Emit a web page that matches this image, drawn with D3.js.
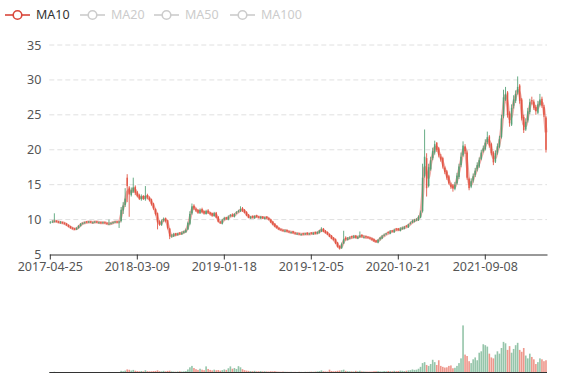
<!DOCTYPE html>
<html><head><meta charset="utf-8">
<script src="https://cdn.jsdelivr.net/npm/d3@7"></script>
<style>body{margin:0;background:#fff}svg{display:block;font-family:"Noto Sans",sans-serif}</style>
</head><body><svg id="c" width="577" height="380"></svg>
<script>
const tickLabels = ["2017-04-25","2018-03-09","2019-01-18","2019-12-05","2020-10-21","2021-09-08"];
const tickIndex = [0,43,86,129,172,215];
const legendNames = ["MA10","MA20","MA50","MA100"];
const legendSelected = [true,false,false,false];
const yTicks = [5,10,15,20,25,30,35];

const opens = [9.5,9.6,9.7,9.8,9.7,9.5,9.6,9.5,9.4,9.2,
9.0,8.8,8.7,8.6,8.8,9.1,9.4,9.5,9.7,9.6,
9.7,9.5,9.6,9.7,9.5,9.6,9.5,9.6,9.5,9.3,
9.4,9.5,9.6,9.7,9.6,9.8,11.3,12.1,16.0,14.6,
13.5,14.0,14.7,13.9,13.5,12.9,13.4,12.9,13.5,13.1,
12.9,12.3,11.5,10.9,9.7,9.2,9.9,10.2,9.9,8.7,
7.6,7.6,8.0,7.8,8.1,7.9,8.1,8.2,8.6,9.4,
10.9,12.0,11.5,11.4,10.9,11.5,11.2,10.8,11.3,11.0,
10.9,10.5,11.0,10.4,9.6,9.4,10.0,10.3,10.0,10.5,
10.7,10.4,10.9,11.1,11.2,11.6,11.4,11.1,10.7,10.2,
10.5,10.2,10.6,10.4,10.2,10.4,10.1,10.4,10.2,10.0,
9.7,9.4,9.1,8.8,8.6,8.5,8.3,8.5,8.3,8.1,
8.3,8.1,7.9,8.0,7.8,8.0,7.9,8.1,7.9,8.1,
7.9,8.2,8.0,8.1,8.3,8.7,8.4,8.2,7.9,7.7,
7.4,7.2,6.7,6.2,5.9,6.6,7.4,7.1,7.3,7.6,
7.4,7.7,7.3,7.5,7.8,7.4,7.6,7.5,7.4,7.3,
7.2,7.0,6.7,7.2,7.3,7.7,7.9,8.2,8.0,8.4,
8.2,8.7,8.7,8.4,8.6,8.7,9.1,8.9,9.4,9.6,
9.7,9.9,9.9,10.3,11.2,16.2,18.8,14.8,17.2,18.8,
19.6,21.0,20.2,19.0,18.8,17.4,16.9,16.2,15.0,14.9,
14.4,15.2,16.1,17.8,19.2,20.5,19.6,15.8,14.7,15.6,
16.4,17.2,17.6,18.7,19.8,20.1,21.1,21.9,20.8,19.6,
18.3,19.6,20.4,21.8,24.8,27.2,28.2,25.2,23.6,26.3,
27.0,28.2,29.2,27.2,24.7,22.9,24.2,25.4,27.1,26.9,
26.1,25.3,26.4,27.3,26.1,24.6];

const highs = [9.8,9.9,10.9,9.9,9.8,9.8,9.7,9.6,9.5,9.3,
9.1,8.9,8.8,8.9,9.2,9.5,9.6,9.7,9.8,9.8,
9.8,9.7,9.8,9.8,9.7,9.7,9.7,9.7,9.6,10.0,
9.6,9.7,9.8,9.8,9.8,11.8,12.5,14.5,16.5,14.8,
14.6,16.0,14.9,14.1,13.7,13.6,13.5,14.8,13.7,13.3,
13.0,12.4,11.6,11.0,9.9,10.0,10.3,10.3,10.0,8.8,
7.9,8.1,8.1,8.1,8.2,8.3,8.4,8.7,9.7,11.2,
12.3,12.2,11.7,11.5,11.6,11.7,11.3,11.4,11.5,11.1,
11.0,11.1,11.1,10.5,9.8,10.1,10.4,10.4,10.6,10.8,
10.9,10.9,11.2,11.4,11.9,11.8,11.5,11.2,10.8,10.5,
10.6,10.6,10.7,10.5,10.5,10.5,10.4,10.5,10.3,10.1,
9.8,9.5,9.2,8.9,8.7,8.6,8.6,8.6,8.4,8.3,
8.4,8.2,8.1,8.1,8.0,8.1,8.1,8.2,8.1,8.2,
8.2,8.3,8.3,8.5,8.9,8.8,8.5,8.3,8.0,7.8,
7.5,7.3,6.8,6.3,6.7,8.4,7.6,7.5,7.6,7.7,
7.8,7.8,7.7,8.3,7.9,7.7,7.7,7.6,7.5,7.4,
7.3,7.1,7.2,7.5,7.8,8.0,8.1,8.3,8.5,8.5,
8.7,8.8,8.8,8.9,9.0,9.1,9.2,9.4,9.7,10.0,
10.1,10.2,10.6,11.3,18.0,22.9,19.5,18.0,19.0,20.3,
21.3,21.1,20.4,19.4,19.0,17.6,17.1,16.4,15.3,15.1,
15.4,16.7,18.0,19.6,21.2,20.8,19.9,16.0,15.9,16.6,
17.4,18.2,18.9,20.0,20.6,21.5,22.6,22.1,21.0,19.8,
19.9,20.9,22.0,25.0,28.6,29.0,28.4,25.5,26.5,27.8,
28.5,30.5,29.4,27.4,25.0,24.5,26.0,27.3,27.6,27.2,
26.4,27.0,28.0,27.6,26.4,24.8];

const lows = [9.4,9.5,9.6,9.6,9.5,9.4,9.4,9.3,9.1,8.9,
8.7,8.6,8.5,8.5,8.7,9.0,9.3,9.4,9.5,9.5,
9.5,9.4,9.5,9.5,9.4,9.4,9.4,9.4,9.3,9.2,
9.3,9.4,9.5,9.5,8.8,9.6,10.8,11.8,12.5,10.4,
13.3,13.8,13.5,13.2,12.8,12.7,12.8,12.7,12.9,12.6,
12.0,11.4,10.6,8.6,9.1,9.1,9.7,9.6,8.6,7.2,
7.4,7.5,7.6,7.7,7.8,7.8,8.0,8.1,8.5,9.2,
10.7,11.4,11.1,10.8,10.8,10.9,10.7,10.7,10.8,10.6,
10.4,10.4,10.2,9.6,9.4,9.3,9.9,10.0,9.9,10.4,
10.4,10.3,10.8,11.0,11.1,11.1,10.9,10.5,10.2,10.1,
10.2,10.1,10.3,10.2,10.1,10.1,10.0,10.1,9.9,9.5,
9.2,8.9,8.7,8.5,8.4,8.3,8.2,8.2,8.1,8.0,
8.0,7.9,7.8,7.8,7.7,7.8,7.8,7.8,7.8,7.9,
7.8,7.9,7.9,8.0,8.2,8.2,8.0,7.8,7.5,7.2,
7.0,6.5,6.0,5.7,5.8,6.5,7.0,7.0,7.2,7.3,
7.3,7.3,7.2,7.4,7.4,7.3,7.3,7.3,7.2,7.0,
6.8,6.7,6.6,7.0,7.2,7.6,7.8,8.0,7.9,8.2,
8.1,8.4,8.4,8.3,8.6,8.6,8.9,8.8,9.3,9.5,
9.6,9.8,9.8,10.2,11.0,16.0,13.3,14.6,17.0,18.5,
19.3,19.7,18.9,18.3,17.3,16.5,15.7,15.0,14.4,14.0,
14.2,15.0,15.8,17.5,19.0,19.4,15.7,14.2,14.5,15.3,
16.1,16.9,17.4,18.5,19.6,19.9,20.8,20.3,19.2,17.8,
18.1,19.3,20.2,21.6,24.5,27.0,24.6,23.3,23.4,25.9,
26.7,27.9,26.6,24.2,22.4,22.7,23.9,25.1,26.5,25.7,
25.0,25.1,26.2,26.0,24.7,19.6];

const closes = [9.6,9.7,9.8,9.7,9.6,9.6,9.5,9.4,9.2,9.0,
8.8,8.7,8.6,8.8,9.1,9.4,9.5,9.6,9.6,9.7,
9.6,9.6,9.7,9.6,9.6,9.5,9.6,9.5,9.4,9.4,
9.5,9.6,9.7,9.6,9.7,11.4,12.0,13.0,14.8,13.6,
14.2,14.6,13.8,13.4,13.0,13.3,13.0,13.4,13.2,12.8,
12.2,11.6,10.8,9.6,9.3,9.8,10.1,9.8,8.8,7.6,
7.7,7.9,7.8,8.0,8.0,8.1,8.3,8.5,9.5,10.8,
11.9,11.6,11.3,11.0,11.4,11.1,10.9,11.2,11.0,10.8,
10.6,10.9,10.3,9.7,9.5,9.9,10.2,10.1,10.4,10.6,
10.5,10.8,11.0,11.2,11.5,11.3,11.0,10.6,10.3,10.4,
10.3,10.5,10.4,10.3,10.4,10.2,10.3,10.2,10.0,9.6,
9.3,9.0,8.8,8.6,8.5,8.4,8.4,8.3,8.2,8.2,
8.1,8.0,8.0,7.9,7.9,7.9,8.0,7.9,8.0,8.0,
8.1,8.0,8.2,8.4,8.6,8.3,8.1,7.9,7.6,7.3,
7.1,6.6,6.1,5.9,6.5,7.2,7.2,7.3,7.4,7.5,
7.6,7.4,7.5,7.7,7.6,7.5,7.5,7.4,7.3,7.1,
6.9,6.8,7.1,7.4,7.6,7.8,8.0,8.1,8.3,8.3,
8.5,8.6,8.5,8.7,8.8,8.9,9.0,9.3,9.5,9.8,
9.9,10.0,10.4,11.0,16.0,19.0,14.5,17.5,18.5,19.8,
20.8,20.0,19.2,18.6,17.6,16.8,16.0,15.2,14.7,14.5,
15.0,16.3,17.6,19.0,20.6,19.8,16.0,14.5,15.5,16.2,
17.0,17.8,18.5,19.6,20.2,21.0,21.8,20.6,19.5,18.2,
19.5,20.5,21.5,24.5,27.5,28.0,25.0,23.8,26.0,27.2,
28.0,29.0,27.0,24.5,22.8,24.0,25.5,26.8,27.0,26.0,
25.5,26.5,27.2,26.3,25.0,20.0];

const volumes = [0.8,0.6,1.5,0.7,0.5,0.6,0.5,0.6,0.7,0.6,
0.8,0.7,0.9,0.6,0.7,0.8,0.5,0.5,0.6,0.5,
0.5,0.4,0.5,0.6,0.5,0.5,0.6,0.7,0.6,1.2,
0.6,0.5,0.5,0.6,1.0,3.5,2.8,4.0,6.5,5.8,
4.2,5.5,3.8,3.0,2.6,3.2,2.5,4.8,2.8,2.5,
2.6,3.0,3.3,4.6,2.8,2.5,3.5,2.6,3.4,3.8,
2.4,2.0,1.8,2.2,2.6,2.0,2.4,3.0,6.5,11.0,
14.0,9.5,7.0,5.5,8.0,6.0,5.0,13.0,7.5,5.5,
4.5,6.0,4.8,5.2,4.0,5.0,6.5,5.5,9.0,13.0,
8.0,9.5,7.5,13.5,11.0,7.0,5.0,4.0,3.5,3.0,
2.8,3.5,2.5,2.6,3.0,2.4,2.6,2.2,2.0,2.6,
2.4,2.8,2.0,1.8,1.6,2.0,1.6,1.5,1.4,1.5,
1.3,1.4,1.2,1.6,1.3,1.2,1.5,1.4,1.6,1.8,
1.6,2.0,2.4,3.0,4.5,2.6,2.2,2.0,6.0,3.2,
2.6,3.0,3.6,4.2,4.8,6.0,3.5,2.8,2.6,2.4,
2.2,3.5,2.6,3.8,2.4,2.2,2.0,1.8,1.9,2.0,
2.6,2.8,3.0,2.4,2.2,3.0,2.6,3.2,2.8,2.6,
3.5,2.8,3.2,4.0,3.6,3.0,3.8,4.5,5.0,6.5,
5.5,6.0,8.0,12.0,20.0,22.0,16.0,14.0,18.0,27.0,
22.0,16.0,26.0,14.0,12.0,10.5,11.0,14.0,15.0,9.0,
10.0,14.0,20.0,30.0,100.0,38.0,35.0,24.0,20.0,28.0,
32.0,26.0,42.0,45.0,60.0,58.0,55.0,40.0,32.0,30.0,
38.0,45.0,40.0,52.0,65.0,62.0,48.0,56.0,42.0,50.0,
58.0,63.0,48.0,44.0,52.0,36.0,30.0,40.0,33.0,28.0,
18.0,22.0,30.0,28.0,24.0,26.0];

const upColor = "#4f9f72", downColor = "#e2513f", maColor = "#d9473b";
const N = closes.length;
const idx = d3.range(N);
const svg = d3.select("#c");
const L = 49.3, R = 547;
const x = d3.scaleBand().domain(idx).range([L, R]);
const bw = x.bandwidth();
const y = d3.scaleLinear().domain([5, 35]).range([254.5, 45]);
const yv = d3.scaleLinear().domain([0, 155]).range([372.5, 299.5]);

// grid lines
svg.append("g").selectAll("line").data(yTicks.filter(t => t > 5)).join("line")
  .attr("x1", L).attr("x2", R).attr("y1", d => y(d)).attr("y2", d => y(d))
  .attr("stroke", "#e0e0e0").attr("stroke-dasharray", "5,3");

// y axis labels
const ya = svg.append("g").attr("transform", `translate(${L},0)`)
  .call(d3.axisLeft(y).tickValues(yTicks).tickSize(0).tickPadding(8));
ya.select(".domain").remove();
ya.selectAll("text").attr("fill", "#555").style("font-size", "12.5px").style("font-family", "Noto Sans");

// MA10 (mean of 10 trading days ≈ 2 weekly closes)
const ma = idx.map(i => i < 1 ? null : (closes[i] + closes[i - 1]) / 2);
svg.append("path").datum(idx.filter(i => ma[i] !== null))
  .attr("fill", "none").attr("stroke", maColor).attr("stroke-opacity", 0.45).attr("stroke-width", 3)
  .attr("d", d3.line().x(i => x(i) + bw / 2).y(i => y(ma[i])).curve(d3.curveMonotoneX));

// candles
const cg = svg.append("g");
idx.forEach(i => {
  const o = opens[i], c = closes[i];
  const col = c >= o ? upColor : downColor;
  const cx = x(i) + bw / 2;
  const hi = Math.max(highs[i], o, c), lo = Math.min(lows[i], o, c);
  cg.append("line").attr("x1", cx).attr("x2", cx).attr("y1", y(hi)).attr("y2", y(lo))
    .attr("stroke", col).attr("stroke-width", 1).attr("stroke-opacity", 0.85);
  const top = y(Math.max(o, c)), bot = y(Math.min(o, c));
  cg.append("rect").attr("x", cx - bw * 0.38).attr("width", bw * 0.76)
    .attr("y", top).attr("height", Math.max(0.6, bot - top))
    .attr("fill", col).attr("fill-opacity", 0.85);
});

// x axis
const xa = svg.append("g").attr("transform", "translate(0,254.5)")
  .call(d3.axisBottom(x).tickValues(tickIndex).tickFormat((d, k) => tickLabels[k]).tickSize(5).tickSizeOuter(0).tickPadding(3));
xa.select(".domain").attr("stroke", "#333");
xa.selectAll(".tick line").attr("stroke", "#333");
xa.selectAll("text").attr("fill", "#555").style("font-size", "12.5px").style("font-family", "Noto Sans");

// volume bars
svg.append("g").selectAll("rect").data(idx).join("rect")
  .attr("x", i => x(i) + bw * 0.1).attr("width", bw * 0.8)
  .attr("y", i => yv(volumes[i])).attr("height", i => yv(0) - yv(volumes[i]))
  .attr("fill", i => closes[i] >= opens[i] ? upColor : downColor).attr("fill-opacity", 0.6);
svg.append("line").attr("x1", L).attr("x2", R).attr("y1", yv(0)).attr("y2", yv(0)).attr("stroke", "#333");

// legend
const lx = [5, 80, 154, 230];
const lg = svg.append("g");
legendNames.forEach((n, k) => {
  const col = legendSelected[k] ? maColor : "#ccc";
  const g = lg.append("g").attr("transform", `translate(${lx[k]},15)`);
  g.append("line").attr("x1", 0).attr("x2", 25).attr("stroke", col).attr("stroke-width", 1.6);
  g.append("circle").attr("cx", 12.5).attr("r", 4.3).attr("fill", "#fff").attr("stroke", col).attr("stroke-width", 1.6);
  g.append("text").attr("x", 31).attr("dy", "0.35em").text(n)
    .attr("fill", legendSelected[k] ? "#333" : "#ccc").style("font-size", "12.5px");
});
</script></body></html>
